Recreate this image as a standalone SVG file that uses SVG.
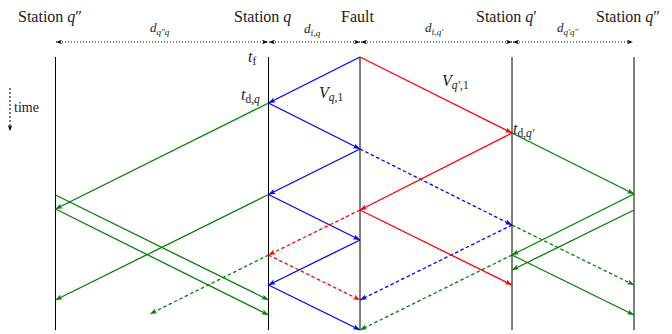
<svg xmlns="http://www.w3.org/2000/svg" width="672" height="334" viewBox="0 0 672 334">
<style>
text{font-family:"Liberation Serif","DejaVu Serif",serif;fill:#1a1a1a}
.lbl{font-size:16px}
.mi{font-style:italic}
.sm{font-size:11.5px}
.dl{font-size:13px}
.ds{font-size:9px}
.axis{stroke:#000;stroke-width:1;fill:none}
.dim{stroke:#000;stroke-width:1;stroke-dasharray:1 2;fill:none}
.b{stroke:#0000ff;stroke-width:1.3;fill:none;marker-end:url(#ab)}
.r{stroke:#ff0000;stroke-width:1.3;fill:none;marker-end:url(#ar)}
.g{stroke:#008000;stroke-width:1.3;fill:none;marker-end:url(#ag)}
.d{stroke-dasharray:3.5 2.5}
</style>
<defs>
<marker id="ab" viewBox="0 0 8 6" refX="8" refY="3" markerWidth="7" markerHeight="5.5" orient="auto" markerUnits="userSpaceOnUse"><path d="M0,0L8,3L0,6L2,3z" fill="#0000ff"/></marker>
<marker id="ar" viewBox="0 0 8 6" refX="8" refY="3" markerWidth="7" markerHeight="5.5" orient="auto" markerUnits="userSpaceOnUse"><path d="M0,0L8,3L0,6L2,3z" fill="#ff0000"/></marker>
<marker id="ag" viewBox="0 0 8 6" refX="8" refY="3" markerWidth="7" markerHeight="5.5" orient="auto" markerUnits="userSpaceOnUse"><path d="M0,0L8,3L0,6L2,3z" fill="#008000"/></marker>
<marker id="ak" viewBox="0 0 8 6" refX="8" refY="3" markerWidth="6" markerHeight="4.5" orient="auto-start-reverse" markerUnits="userSpaceOnUse"><path d="M0,0L8,3L0,6L2,3z" fill="#000"/></marker>
</defs>

<g id="station-q2-left">
<line class="axis" x1="55.5" y1="57" x2="55.5" y2="330"/>
<text class="lbl" x="18" y="22">Station <tspan class="mi">q</tspan>″</text>
</g>
<g id="station-q">
<line class="axis" x1="268.5" y1="57" x2="268.5" y2="330"/>
<text class="lbl" x="234" y="22">Station <tspan class="mi">q</tspan></text>
</g>
<g id="fault">
<line class="axis" x1="360" y1="57" x2="360" y2="330"/>
<text class="lbl" x="341" y="22">Fault</text>
</g>
<g id="station-q1">
<line class="axis" x1="512" y1="57" x2="512" y2="330"/>
<text class="lbl" x="476" y="22">Station <tspan class="mi">q</tspan>′</text>
</g>
<g id="station-q2-right">
<line class="axis" x1="634" y1="57" x2="634" y2="330"/>
<text class="lbl" x="596" y="22">Station <tspan class="mi">q</tspan>″</text>
</g>

<g id="distances">
<line class="dim" x1="56" y1="42" x2="268" y2="42" marker-start="url(#ak)" marker-end="url(#ak)"/>
<line class="dim" x1="269" y1="42" x2="360" y2="42" marker-start="url(#ak)" marker-end="url(#ak)"/>
<line class="dim" x1="361" y1="42" x2="512" y2="42" marker-start="url(#ak)" marker-end="url(#ak)"/>
<line class="dim" x1="513" y1="42" x2="633" y2="42" marker-start="url(#ak)" marker-end="url(#ak)"/>
<text class="dl mi" x="150" y="32">d<tspan class="ds" dy="3">q″q</tspan></text>
<text class="dl mi" x="304" y="33">d<tspan class="ds" dy="3" font-style="normal">f,</tspan><tspan class="ds">q</tspan></text>
<text class="dl mi" x="425" y="32">d<tspan class="ds" dy="3" font-style="normal">f,</tspan><tspan class="ds">q′</tspan></text>
<text class="dl mi" x="557" y="32">d<tspan class="ds" dy="3">q′q″</tspan></text>
</g>

<g id="time-axis">
<line x1="10" y1="88" x2="10" y2="131" stroke="#000" stroke-width="1" stroke-dasharray="2 2" marker-end="url(#ak)"/>
<text x="14" y="112" font-size="14">time</text>
</g>

<g id="labels">
<text class="lbl mi" x="248" y="62">t<tspan class="sm" dy="3" font-style="normal">f</tspan></text>
<text class="lbl mi" x="241" y="100">t<tspan class="sm" dy="3" font-style="normal">d,</tspan><tspan class="sm">q</tspan></text>
<text class="lbl mi" x="319" y="98">V<tspan class="sm" dy="3">q</tspan><tspan class="sm" font-style="normal">,1</tspan></text>
<text class="lbl mi" x="442" y="86">V<tspan class="sm" dy="3">q′</tspan><tspan class="sm" font-style="normal">,1</tspan></text>
<text class="lbl mi" x="513" y="134">t<tspan class="sm" dy="3" font-style="normal">d,</tspan><tspan class="sm">q′</tspan></text>
</g>

<g id="connectors">
<line class="b" x1="360" y1="57" x2="268.5" y2="103"/>
<line class="b" x1="268.5" y1="103" x2="360" y2="149"/>
<line class="b" x1="360" y1="149" x2="268.5" y2="194.5"/>
<line class="b" x1="268.5" y1="194.5" x2="360" y2="240"/>
<line class="b" x1="360" y1="240" x2="268.5" y2="285"/>
<line class="b" x1="268.5" y1="285" x2="360" y2="330"/>
<line class="b d" x1="360" y1="149" x2="512" y2="225"/>
<line class="b d" x1="512" y1="225" x2="360" y2="300"/>

<line class="r" x1="360" y1="57" x2="512" y2="133"/>
<line class="r" x1="512" y1="133" x2="360" y2="210"/>
<line class="r" x1="360" y1="210" x2="512" y2="285"/>
<line class="r d" x1="360" y1="210" x2="268.5" y2="255"/>
<line class="r d" x1="268.5" y1="255" x2="360" y2="300"/>

<line class="g" x1="268.5" y1="103" x2="55.5" y2="209"/>
<line class="g" x1="268.5" y1="194.5" x2="55.5" y2="300"/>
<line class="g" x1="55.5" y1="195" x2="268.5" y2="300"/>
<line class="g" x1="55.5" y1="209" x2="268.5" y2="315"/>
<line class="g" x1="512" y1="133" x2="634" y2="194"/>
<line class="g" x1="634" y1="194" x2="512" y2="255"/>
<line class="g" x1="634" y1="210" x2="512" y2="270"/>
<line class="g" x1="512" y1="255" x2="634" y2="315"/>
<line class="g d" x1="268.5" y1="255" x2="150" y2="314"/>
<line class="g d" x1="512" y1="225" x2="634" y2="285"/>
<line class="g d" x1="512" y1="255" x2="360" y2="330"/>
</g>
</svg>
